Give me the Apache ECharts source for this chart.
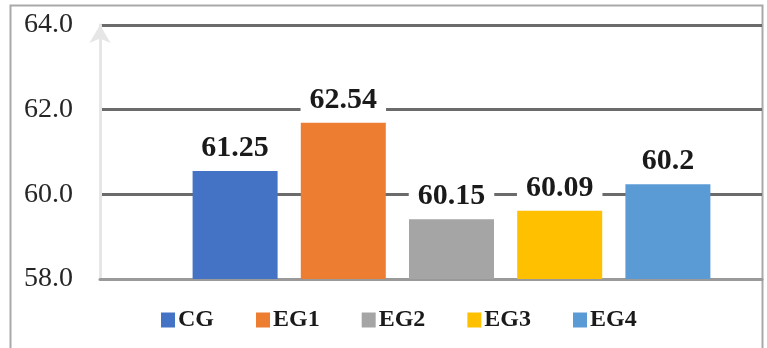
<!DOCTYPE html>
<html><head><meta charset="utf-8">
<script src="https://cdn.jsdelivr.net/npm/echarts@6/dist/echarts.min.js"></script>
<style>html,body{margin:0;padding:0;background:#fff}#c{width:767px;height:348px}</style>
</head><body><div id="c"></div>
<script>
const categories = ['CG', 'EG1', 'EG2', 'EG3', 'EG4'];
const barValues = [60.55, 61.69, 59.41, 59.61, 60.24];
const barLabels = ['61.25', '62.54', '60.15', '60.09', '60.2'];
const colors = ['#4472C4', '#ED7D31', '#A5A5A5', '#FFC000', '#5B9BD5'];
const yTicks = [58, 60, 62, 64];

const FONT = '"Liberation Serif","Times New Roman",serif';
const chart = echarts.init(document.getElementById('c'), null, {renderer: 'canvas'});

const series = categories.map((name, i) => ({
  name: name,
  type: 'bar',
  xAxisIndex: 1,
  yAxisIndex: 1,
  stack: 'all',
  barWidth: 85,
  data: categories.map((c, j) => j === i ? barValues[i] : null),
  itemStyle: {color: colors[i]},
  label: {
    show: true,
    position: 'top',
    distance: 7,
    formatter: () => barLabels[i],
    fontFamily: FONT,
    fontWeight: 'bold',
    fontSize: 30,
    color: '#1a1a1a',
    backgroundColor: '#fff',
    padding: [1, 9]
  },
  z: 3
}));

chart.setOption({
  animation: false,
  backgroundColor: '#fff',
  graphic: [{
    type: 'rect',
    shape: {x: 10.5, y: 5.5, width: 752, height: 360},
    style: {fill: 'none', stroke: '#a9a9a9', lineWidth: 2},
    silent: true,
    z: 0
  }],
  grid: [
    {left: 100, right: 5, top: 25, bottom: 69},
    {left: 181, right: 45, top: 25, bottom: 69}
  ],
  xAxis: [
    {type: 'category', gridIndex: 0, data: [''],
     axisLine: {show: true, lineStyle: {color: '#9a9a9a', width: 3}},
     axisTick: {show: false}, axisLabel: {show: false}, splitLine: {show: false}},
    {type: 'category', gridIndex: 1, data: categories, show: false}
  ],
  yAxis: [
    {type: 'value', gridIndex: 0, min: yTicks[0], max: yTicks[yTicks.length - 1], interval: 2,
     axisLine: {show: true, symbol: ['none', 'arrow'], symbolSize: [16, 18], symbolOffset: [0, 0],
                lineStyle: {color: '#e6e6e6', width: 3}},
     axisTick: {show: false},
     axisLabel: {formatter: v => v.toFixed(1), fontFamily: FONT, fontSize: 28, color: '#262626', margin: 27},
     splitLine: {show: true, lineStyle: {color: '#6b6b6b', width: 3}}},
    {type: 'value', gridIndex: 1, min: yTicks[0], max: yTicks[yTicks.length - 1], interval: 2, show: false,
     splitLine: {show: false}}
  ],
  legend: {
    data: categories,
    left: 161,
    top: 308,
    padding: 0,
    icon: 'rect',
    itemWidth: 14,
    itemHeight: 15,
    itemGap: 42,
    textStyle: {fontFamily: FONT, fontWeight: 'bold', fontSize: 24, color: '#1a1a1a', padding: [0, 0, 0, -2]}
  },
  series: series
});
</script></body></html>
